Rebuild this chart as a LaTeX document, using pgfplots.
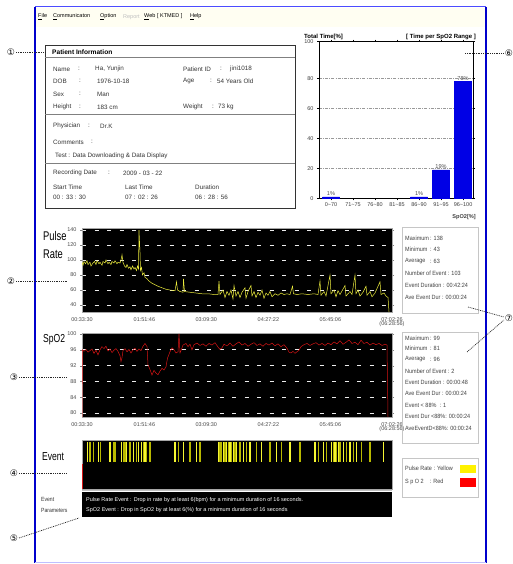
\documentclass[border=0pt]{standalone}
\usepackage{fontspec}
\setmainfont{Liberation Sans}
\newfontfamily\dejavu{DejaVu Sans}
\usepackage{pgfplots}
\pgfplotsset{compat=1.18}
\newcommand\fs[1]{\fontsize{#1}{#1}\selectfont}
\newcommand\Tx[3]{\node[anchor=west,inner sep=0pt,font=\fs{6.3},text=black!80] at (#1,{564-#2}) {#3};}
\newcommand\St[3]{\node[anchor=west,inner sep=0pt,font=\fs{6.1},xscale=0.9,text=black!75] at (#1,{564-#2}) {#3};}
\newcommand\Cc[3]{\node[font=\dejavu\fs{9},inner sep=0pt] at (#1,{564-#2}) {#3};}
\definecolor{pulsey}{RGB}{235,235,60}
\definecolor{dimy}{RGB}{185,185,0}
\definecolor{bary}{RGB}{245,245,50}
\definecolor{spred}{RGB}{215,20,20}
\begin{document}
\begin{tikzpicture}[x=1pt,y=1pt]
\path[use as bounding box] (0,0) rectangle (513,564);
\fill[white] (0,0) rectangle (513,564);
\coordinate (hA) at (319pt,365.7pt);
\coordinate (pA) at (82pt,252pt);
\coordinate (sA) at (82pt,147pt);
\coordinate (eA) at (82pt,75pt);
% window frame and menu bar
\fill[yellow!5] (35,{564-8}) rectangle (486,{564-27});
\draw[blue!70,line width=1pt] (35,{564-7}) -- (486,{564-7});
\draw[blue!80!black,line width=1.1pt] (35,{564-7}) -- (35,1);
\draw[blue!80!black,line width=1.1pt] (486,{564-7}) -- (486,1);
\draw[blue!25,line width=1pt] (35,1) -- (486,1);
\node[anchor=west,inner sep=0pt,font=\fs{5.5}] at (38,{564-17}) {\underline{F}ile};
\node[anchor=west,inner sep=0pt,font=\fs{5.5}] at (53,{564-17}) {\underline{C}ommunicaton};
\node[anchor=west,inner sep=0pt,font=\fs{5.5}] at (100,{564-17}) {\underline{O}ption};
\node[anchor=west,inner sep=0pt,font=\fs{5.5},text=black!25] at (123,{564-17}) {Report};
\node[anchor=west,inner sep=0pt,font=\fs{5.5}] at (144,{564-17}) {\underline{W}eb [ KTMED ]};
\node[anchor=west,inner sep=0pt,font=\fs{5.5}] at (190,{564-17}) {\underline{H}elp};

% patient information box
\draw[black!80,line width=1pt] (45,{564-46}) rectangle (295,{564-209});
\draw[gray,line width=0.8pt] (45,{564-57.5}) -- (295,{564-57.5});
\draw[gray,line width=0.8pt] (45,{564-114}) -- (295,{564-114});
\draw[gray,line width=0.8pt] (45,{564-163}) -- (295,{564-163});
\node[anchor=west,inner sep=0pt,font=\bfseries\fs{6.6}] at (52,{564-52}) {Patient Information};
\Tx{53}{69}{Name}\Tx{78}{69}{:}\Tx{95}{69}{Ha, Yunjin}
\Tx{183}{69}{Patient ID}\Tx{220}{69}{:}\Tx{230}{69}{jini1018}
\Tx{53}{81}{DOB}\Tx{79}{81}{:}\Tx{97}{81}{1976-10-18}
\Tx{183}{81}{Age}\Tx{210}{81}{:}\Tx{217}{81}{54 Years Old}
\Tx{53}{94}{Sex}\Tx{79}{94}{:}\Tx{97}{94}{Man}
\Tx{53}{107}{Height}\Tx{79}{107}{:}\Tx{97}{107}{183 cm}
\Tx{183}{107}{Weight}\Tx{212}{107}{:}\Tx{218}{107}{73 kg}
\Tx{53}{126}{Physician}\Tx{88}{126}{:}\Tx{100}{126}{Dr.K}
\Tx{53}{142}{Comments}\Tx{91}{142}{:}
\Tx{55}{156}{Test : Data Downloading \& Data Display}
\Tx{53}{173}{Recording Date}\Tx{108}{173}{:}\Tx{123}{173}{2009 - 03 - 22}
\Tx{53}{187}{Start Time}\Tx{125}{187}{Last Time}\Tx{195}{187}{Duration}
\Tx{53}{197}{00 : 33 : 30}\Tx{125}{197}{07 : 02 : 26}\Tx{195}{197}{06 : 28 : 56}

% histogram
\node[anchor=west,inner sep=0pt,font=\bfseries\fs{6}] at (304,{564-37}) {Total Time[\%]};
\node[anchor=east,inner sep=0pt,font=\bfseries\fs{6}] at (476,{564-37}) {[ Time per SpO2 Range ]};
\begin{axis}[at={(hA)},anchor=south west,scale only axis,width=154pt,height=156.6pt,
  xmin=-0.545,xmax=6.45,ymin=0,ymax=104.4,
  ybar,bar width=17pt,
  xtick={0,...,6},
  xticklabels={0\textasciitilde70,71\textasciitilde75,76\textasciitilde80,81\textasciitilde85,86\textasciitilde90,91\textasciitilde95,96\textasciitilde100},
  ytick={0,20,40,60,80,104.4},yticklabels={0,20,40,60,80,100},
  minor y tick num=3,
  ymajorgrids,major grid style={gray!80,dash pattern=on 3pt off 1.2pt on 0.8pt off 1.2pt,line width=0.6pt},
  tick align=outside,major tick length=2pt,minor tick length=1.2pt,
  tick style={black,line width=0.4pt},
  axis line style={black,line width=0.8pt},
  tick label style={font=\fs{5.5},text=black!75},
  /pgf/number format/assume math mode=true,
  xticklabel style={yshift=1pt},
  nodes near coords,point meta=explicit symbolic,
  every node near coord/.append style={font=\fs{5.6},text=black!70,inner sep=1pt},
]
\addplot[fill=blue!90!black,draw=blue!90!black] coordinates {(0,1)[1\%] (4,1)[1\%] (5,19)[19\%] (6,78)[78\%]};
\end{axis}
\node[anchor=east,inner sep=0pt,font=\bfseries\fs{5.6},text=black!75] at (476,{564-217}) {SpO2[\%]};

% pulse rate
\node[anchor=west,inner sep=0pt,font=\fs{12},xscale=0.78,yscale=1.05] at (43,{564-236}) {Pulse};
\node[anchor=west,inner sep=0pt,font=\fs{12},xscale=0.78,yscale=1.05] at (43,{564-254}) {Rate};
\begin{axis}[at={(pA)},anchor=south west,scale only axis,width=310pt,height=84pt,
  xmin=0,xmax=310,ymin=30.7,ymax=142.7,
  axis background/.style={fill=black},
  ytick={40,60,80,100,120,140},
  xtick={0,62.4,124.3,186.4,248.4,310},
  xticklabels={00:33:30,01:51:46,03:09:30,04:27:22,05:45:06,{07:02:26\\[-1.5pt](06:28:56)}},
  xticklabel style={align=center},
  ymajorgrids,major grid style={white!85!gray,dash pattern=on 4pt off 8.5pt,line width=1pt},
  tick align=outside,major tick length=2pt,xtick style={draw=none},
  tick style={gray},axis line style={gray!70},
  tick label style={font=\fs{5.5},text=black!70},
  /pgf/number format/assume math mode=true,
]
\addplot[pulsey,line width=0.5pt,no markers] coordinates {
(0,97)(1,93)(2,98)(3.5,95)(5,99)(6,94)(8,97)(9,92)(11,96)(12.5,98)(14,94)(15,99)(17,95)(18,97)(20,93)(21,98)(23,96)(24,100)(26,95)(27,97)(29,94)(30,98)(32,96)(33,99)(35,95)(36,97)(38,96)(39,100)(40,107)(41,97)(42.5,92)(44,90)(45,94)(46.5,89)(48,91)(49,87)(50.5,92)(52,88)(53,90)(54.5,86)(55.5,92)(56.5,88)(57,140)(58,110)(58.5,86)(59.5,90)(60.5,80)(62,83)(63,77)(65,75)(67,72)(70,69)(73,67)(76,65)(80,63)(84,61)(88,60)(93,59)(94.5,71)(95.5,60)(98,58)(101,57)(101.5,75)(102.5,58)(108,57)(114,56)(120,55)(126,55)(132,54)(136,54)(137,72)(138,54)(141,60)(143,50)(145,58)(147,53)(149,60)(151,48)(152,66)(154,52)(156,58)(158,50)(160,57)(163,63)(164,49)(166,58)(169,66)(170,52)(172,58)(174,50)(176,57)(178,53)(180,60)(182,49)(184,56)(186,53)(188,58)(190,51)(193,55)(196,53)(199,56)(202,54)(205,55)(208,54)(210.5,65)(211.5,55)(215,54)(220,55)(226,54)(232,55)(236,54)(238,72)(239,53)(242,58)(244,52)(248,80)(249,55)(252,60)(254,51)(256,59)(258,54)(263,66)(264,52)(268,58)(270,54)(273,80)(274,55)(276,60)(278,52)(281,57)(284,65)(285,53)(288,58)(290,51)(293,56)(298,71)(299,54)(302,56)(304,52)(306,50)(307,31)};
\end{axis}

% SpO2
\node[anchor=west,inner sep=0pt,font=\fs{11},xscale=0.78,yscale=1.05] at (43,{564-340}) {SpO2};
\begin{axis}[at={(sA)},anchor=south west,scale only axis,width=310pt,height=84pt,
  xmin=0,xmax=310,ymin=79,ymax=100.25,
  axis background/.style={fill=black},
  ytick={80,84,88,92,96,100},
  xtick={0,62.4,124.3,186.4,248.4,310},
  xticklabels={00:33:30,01:51:46,03:09:30,04:27:22,05:45:06,{07:02:26\\[-1.5pt](06:28:56)}},
  xticklabel style={align=center},
  ymajorgrids,major grid style={white!85!gray,dash pattern=on 4pt off 8.5pt,line width=1pt},
  tick align=outside,major tick length=2pt,xtick style={draw=none},
  tick style={gray},axis line style={gray!70},
  tick label style={font=\fs{5.5},text=black!70},
  /pgf/number format/assume math mode=true,
]
\addplot[spred,line width=0.5pt,no markers] coordinates {
(0,79)(0.5,96)(2,95.6)(4,96.1)(6,95.4)(8,95.8)(10,96.2)(12,95.1)(14,95.9)(16,94.7)(18,96)(20,96.8)(22,96.3)(24,96.9)(26,95.7)(28,96.2)(30,95.3)(32,95.9)(34,96.3)(36,95.6)(38,94.5)(39,93)(40,94)(41,95.8)(43,96.3)(45,95.5)(47,96.1)(49,95.2)(51,96)(53,96.4)(55,95.6)(57,96.2)(59,95.8)(61,96.9)(63,97.6)(65,96.8)(66,92.2)(68,91)(70,89.6)(72,90.8)(74,90.1)(76,89.7)(78,90.6)(80,91.3)(82,90.9)(84,91.7)(85.5,93.9)(88,95.5)(90,96.5)(92,96)(94,95.2)(96,95.5)(97,100)(98,95.2)(99,95.8)(101,97.2)(104,97.6)(106,96.8)(108,97.4)(110,96)(112,97.3)(115,97.7)(118,97.1)(121,97.5)(124,96.9)(127,97.6)(130,97.2)(133,97.8)(136,96.7)(138,96.1)(140,96.5)(142,97.4)(145,97)(148,97.7)(151,96.9)(154,97.5)(157,98)(160,97.2)(163,97.6)(166,96.9)(169,97.4)(172,97.8)(175,97.1)(178,97.5)(181,96.9)(184,97.6)(187,97.2)(190,97.7)(193,97)(196,97.5)(199,96.8)(202,97.3)(205,96.4)(207,95.4)(209,95.2)(211,95.6)(213,95.1)(215,95.5)(217,95.9)(219,96.8)(222,97.3)(225,97.6)(228,97.1)(231,97.5)(234,97.8)(237,97.2)(240,97.6)(243,97.1)(246,97.7)(249,97.3)(252,98)(255,97.5)(258,98.3)(261,97.4)(264,97.9)(267,98.5)(270,97.6)(273,97.9)(276,97.3)(279,98.4)(282,97.6)(285,97.9)(288,97.2)(291,97.7)(294,97.3)(297,97.6)(300,97.1)(303,97.4)(305,97.2)(306,79)};
\end{axis}

% Event
\node[anchor=west,inner sep=0pt,font=\fs{11},xscale=0.78,yscale=1.05] at (42,{564-457}) {Event};
\begin{axis}[at={(eA)},anchor=south west,scale only axis,width=310pt,height=49pt,
  xmin=0,xmax=310,ymin=-1.23,ymax=1,
  axis background/.style={fill=black},ticks=none,axis line style={gray!70}]
\addplot[ycomb,dimy,line width=1.4pt,no markers] coordinates {
(8,0.9)(11.3,0.9)(18.7,0.9)(31.3,0.9)(33,0.9)(41.3,0.9)(43,0.9)(48,0.9)(54.7,0.9)(61.3,0.9)(64.7,0.9)(68,0.9)(96.3,0.9)(108,0.9)(118,0.9)(138,0.9)(139.7,0.9)(143,0.9)(146.3,0.9)(149.7,0.9)(153,0.9)(158,0.9)(164.7,0.9)(174.7,0.9)(188,0.9)(199.7,0.9)(218,0.9)(236.3,0.9)(244.7,0.9)(251.3,0.9)(254.7,0.9)(258,0.9)(264.7,0.9)(271.3,0.9)(279.7,0.9)(288,0.9)};
\addplot[ycomb,bary,line width=1.4pt,no markers] coordinates {
(5.3,0.9)(16.3,0.9)(28,0.9)(39.7,0.9)(44.7,0.9)(51.3,0.9)(56.3,0.9)(59.7,0.9)(63,0.9)(93,0.9)(101.3,0.9)(114.7,0.9)(136.3,0.9)(141.3,0.9)(144.7,0.9)(148,0.9)(151.3,0.9)(154.7,0.9)(161.3,0.9)(168,0.9)(179.7,0.9)(194.7,0.9)(208,0.9)(233,0.9)(241.3,0.9)(249.7,0.9)(253,0.9)(256.3,0.9)(261.3,0.9)(268,0.9)(274.7,0.9)(301.3,0.9)};
\addplot[spred,line width=1.2pt,no markers] coordinates {(0.5,-0.1) (0.5,-1.23)};
\end{axis}

% event parameters
\draw[gray!50,line width=1pt] (82,{564-490.5}) -- (392,{564-490.5});
\fill[black] (82,{564-517}) rectangle (392,{564-492});
\node[anchor=west,inner sep=0pt,font=\fs{5.5},text=white] at (86,{564-500}) {Pulse Rate Event : Drop in rate by at least 6(bpm) for a minimum duration of 16 seconds.};
\node[anchor=west,inner sep=0pt,font=\fs{5.5},text=white] at (86,{564-510}) {SpO2 Event : Drop in SpO2 by at least 6(\%) for a minimum duration of 16 seconds};
\node[anchor=west,inner sep=0pt,font=\fs{6},xscale=0.85,text=black!80] at (41,{564-499}) {Event};
\node[anchor=west,inner sep=0pt,font=\fs{6},xscale=0.85,text=black!80] at (41,{564-510}) {Parameters};

% statistics boxes
\draw[gray!45,line width=0.9pt] (402,{564-227}) rectangle (478,{564-313});
\St{405}{238}{Maximum}\St{430}{238}{: 138}
\St{405}{249.5}{Minimum}\St{430}{249.5}{: 43}
\St{405}{261}{Average}\St{430}{261}{: 63}
\St{405}{273}{Number of Event : 103}
\St{405}{285}{Event Duration : 00:42:24}
\St{405}{297}{Ave Event Dur : 00:00:24}
\draw[gray!45,line width=0.9pt] (402,{564-332}) rectangle (478,{564-443});
\St{405}{338}{Maximum}\St{430}{338}{: 99}
\St{405}{348.5}{Minimum}\St{430}{348.5}{: 81}
\St{405}{359.5}{Average}\St{430}{359.5}{: 96}
\St{405}{371}{Number of Event : 2}
\St{405}{382.5}{Event Duration : 00:00:48}
\St{405}{393.5}{Ave Event Dur : 00:00:24}
\St{405}{405}{Event < 88\%~ : 1}
\St{405}{416.5}{Event Dur <88\%: 00:00:24}
\St{405}{428}{AveEventD<88\%: 00:00:24}
\draw[gray!45,line width=0.9pt] (402,{564-458}) rectangle (478,{564-497});
\St{405}{468}{Pulse Rate : Yellow}
\St{405}{482}{S p O 2 ~~ : Red}
\fill[yellow] (460,{564-465}) rectangle (476,{564-473});
\fill[red] (460,{564-478}) rectangle (476,{564-487});

% callouts
\tikzset{callout/.style={black!85,line width=0.7pt,dash pattern=on 0.9pt off 0.9pt}}
\Cc{11}{52}{①}\draw[callout] (16,{564-52}) -- (45,{564-52});
\Cc{11}{281}{②}\draw[callout] (16,{564-281}) -- (67,{564-281});
\Cc{14}{377}{③}\draw[callout] (19,{564-377}) -- (67,{564-377});
\Cc{14}{473}{④}\draw[callout] (19,{564-473}) -- (67,{564-473});
\Cc{14}{538}{⑤}\draw[callout] (19,{564-538}) -- (79,{564-518});
\Cc{509}{53}{⑥}\draw[callout] (465,{564-53}) -- (504,{564-53});
\Cc{509}{318}{⑦}\draw[callout] (468,{564-307}) -- (504,{564-317});
\draw[callout] (467,{564-352}) -- (504,{564-320});
\end{tikzpicture}
\end{document}
